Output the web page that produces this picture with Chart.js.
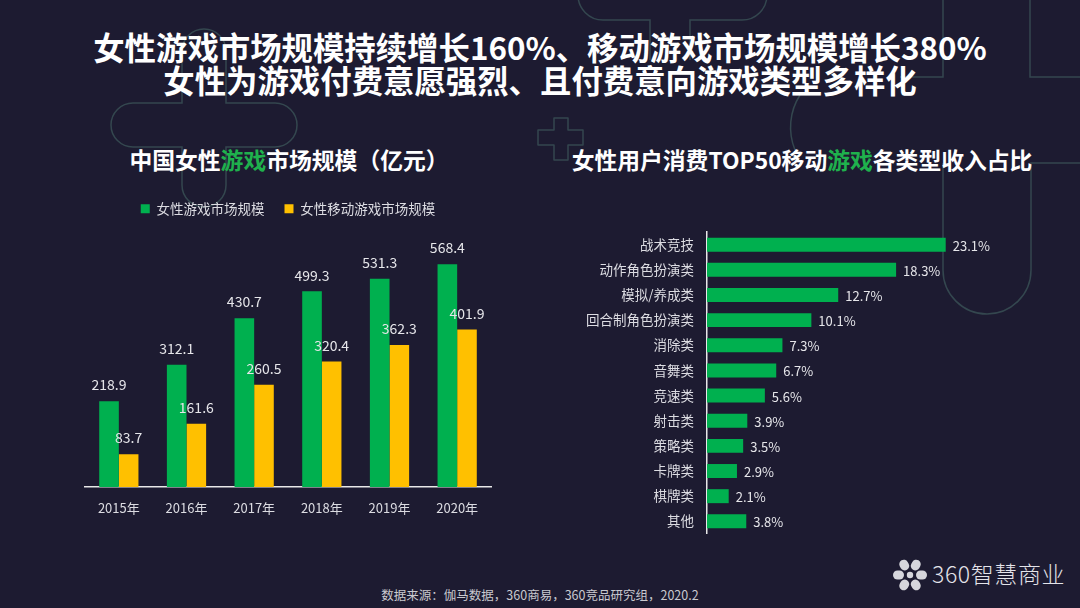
<!DOCTYPE html>
<html>
<head>
<meta charset="utf-8">
<script src="https://cdn.jsdelivr.net/npm/chart.js@4/dist/chart.umd.min.js"></script>
<style>
  html, body { margin: 0; padding: 0; }
  body { width: 1080px; height: 608px; background: #1d1b31; position: relative; overflow: hidden;
         font-family: "Noto Sans CJK SC", "Noto Sans", sans-serif; color: #fff; }
  .abs { position: absolute; }
  #deco { position: absolute; left: 0; top: 0; }
  .title { left: 0; width: 1080px; text-align: center; font-weight: 700; font-size: 31.4px; line-height: 34px; color: #fff; white-space: nowrap; }
  .sub { font-weight: 700; font-size: 22.8px; line-height: 26px; color: #fff; text-align: center; white-space: nowrap; }
  .g { color: #1fb14d; }
  #foot { left: 0; width: 1080px; top: 586px; text-align: center; font-size: 12.5px; line-height: 18px; color: #c9c9cf; }
  #logoText { left: 932px; top: 559px; font-size: 23px; line-height: 28px; color: #e4e4ea; font-weight: 300; letter-spacing: 0.6px; }
</style>
</head>
<body>
<svg id="deco" width="1080" height="608" viewBox="0 0 1080 608">
  <g fill="none" stroke="#34474f" stroke-width="1.5">
    <path d="M182,51 A22,22 0 0 1 226,51 L226,103 L275,103 A22,22 0 0 1 275,147 L226,147 L226,185 A22,22 0 0 1 182,185 L182,147 L133,147 A22,22 0 0 1 133,103 L182,103 Z"/>
    <path d="M578,-10 L578,-5 A25,25 0 0 0 603,20 L650,20 L650,60 M690,60 L690,20 L742,20 A25,25 0 0 0 767,-5 L767,-10"/>
    <path d="M554,118 L568,118 L568,130 L583,130 L583,145 L568,145 L568,160 L554,160 L554,145 L538,145 L538,130 L554,130 Z" stroke-linejoin="round"/>
    <path d="M900,77 L943,77 L943,0"/>
    <path d="M1030,0 L1030,77 L1080,77"/>
    <path d="M1080,163 L1031,163 L1031,270 A44,44 0 0 1 943,270 L943,163"/>
    <path d="M800,95 A60,60 0 0 0 795,150"/>
  </g>
</svg>

<div class="abs title" style="top:30px;">女性游戏市场规模持续增长160%、移动游戏市场规模增长380%</div>
<div class="abs title" style="top:63px;">女性为游戏付费意愿强烈、且付费意向游戏类型多样化</div>

<div class="abs sub" style="left:89px;width:400px;top:147px;">中国女性<span class="g">游戏</span>市场规模（亿元）</div>
<div class="abs sub" style="left:560px;width:484px;top:147px;">女性用户消费TOP50移动<span class="g">游戏</span>各类型收入占比</div>

<div class="abs" style="left:58px;top:182px;width:460px;height:348px;"><canvas id="c1" width="460" height="348"></canvas></div>
<div class="abs" style="left:560px;top:211px;width:460px;height:344px;"><canvas id="c2" width="460" height="344"></canvas></div>

<div id="foot" class="abs">数据来源：伽马数据，360商易，360竞品研究组，2020.2</div>

<svg class="abs" style="left:892px;top:557px;" width="36" height="36" viewBox="0 0 36 36">
  <g fill="#d6d6dc" transform="translate(18,18)">
    <rect x="-4.5" y="-17" width="9" height="11" rx="4.5" transform="rotate(-30)"/>
    <rect x="-4.5" y="-17" width="9" height="11" rx="4.5" transform="rotate(30)"/>
    <rect x="-4.5" y="-17" width="9" height="11" rx="4.5" transform="rotate(90)"/>
    <rect x="-4.5" y="-17" width="9" height="11" rx="4.5" transform="rotate(150)"/>
    <rect x="-4.5" y="-17" width="9" height="11" rx="4.5" transform="rotate(210)"/>
    <rect x="-4.5" y="-17" width="9" height="11" rx="4.5" transform="rotate(270)"/>
    <circle cx="0" cy="0" r="3.2"/>
  </g>
</svg>
<div id="logoText" class="abs">360智慧商业</div>

<script>
// ---------- data ----------
const years = ['2015年', '2016年', '2017年', '2018年', '2019年', '2020年'];
const femaleGameMarket = [218.9, 312.1, 430.7, 499.3, 531.3, 568.4];
const femaleMobileGameMarket = [83.7, 161.6, 260.5, 320.4, 362.3, 401.9];
const seriesNames = ['女性游戏市场规模', '女性移动游戏市场规模'];

const genres = ['战术竞技', '动作角色扮演类', '模拟/养成类', '回合制角色扮演类', '消除类', '音舞类', '竞速类', '射击类', '策略类', '卡牌类', '棋牌类', '其他'];
const genreShare = [23.1, 18.3, 12.7, 10.1, 7.3, 6.7, 5.6, 3.9, 3.5, 2.9, 2.1, 3.8];

// ---------- styles ----------
const GREEN = '#00b04f';
const GOLD = '#ffc000';
const FONT = '"Noto Sans CJK SC", "Noto Sans", sans-serif';
const LABEL = '#e6e6ea';

const valueLabels = {
  id: 'valueLabels',
  afterDatasetsDraw(chart, args, opts) {
    const ctx = chart.ctx;
    ctx.save();
    ctx.fillStyle = LABEL;
    ctx.font = (opts.size || 14) + 'px ' + FONT;
    chart.data.datasets.forEach((ds, di) => {
      const meta = chart.getDatasetMeta(di);
      meta.data.forEach((bar, i) => {
        const v = ds.data[i];
        const txt = opts.suffix ? v.toFixed(1) + opts.suffix : v.toFixed(1);
        if (opts.horizontal) {
          ctx.textAlign = 'left'; ctx.textBaseline = 'middle';
          ctx.fillText(txt, bar.x + 7, bar.y + 1);
        } else {
          ctx.textAlign = 'center'; ctx.textBaseline = 'middle';
          ctx.fillText(txt, bar.x, bar.y - 16);
        }
      });
    });
    ctx.restore();
  }
};

new Chart(document.getElementById('c1'), {
  type: 'bar',
  data: {
    labels: years,
    datasets: [
      { label: seriesNames[0], data: femaleGameMarket, backgroundColor: GREEN },
      { label: seriesNames[1], data: femaleMobileGameMarket, backgroundColor: GOLD }
    ]
  },
  options: {
    responsive: false,
    animation: false,
    events: [],
    layout: { padding: { left: 27, right: 27, top: 0, bottom: 0 } },
    categoryPercentage: 0.58,
    barPercentage: 1.0,
    plugins: {
      legend: {
        display: true,
        position: 'top',
        labels: {
          color: '#dcdce2',
          font: { family: FONT, size: 13.5 },
          boxWidth: 9, boxHeight: 9,
          padding: 20
        }
      },
      tooltip: { enabled: false },
      valueLabels: { size: 14 }
    },
    scales: {
      x: {
        grid: { display: false, drawTicks: false },
        border: { display: true, color: '#e8e8e8', width: 1.5 },
        ticks: { color: '#dcdce2', font: { family: FONT, size: 13 }, padding: 13 },
        afterFit(s) { s.height = 43; }
      },
      y: { display: false, min: 0, max: 667 }
    }
  },
  plugins: [valueLabels]
});

new Chart(document.getElementById('c2'), {
  type: 'bar',
  data: {
    labels: genres,
    datasets: [{ label: '收入占比', data: genreShare, backgroundColor: GREEN }]
  },
  options: {
    indexAxis: 'y',
    responsive: false,
    animation: false,
    events: [],
    layout: { padding: { left: 0, right: 3, top: 0, bottom: 0 } },
    categoryPercentage: 1.0,
    barPercentage: 0.556,
    plugins: {
      legend: { display: false },
      tooltip: { enabled: false },
      valueLabels: { size: 13, horizontal: true, suffix: '%' }
    },
    scales: {
      x: { display: false, min: 0, max: 30 },
      y: {
        grid: { display: false, drawTicks: false },
        border: { display: true, color: '#e8e8e8', width: 1.5 },
        ticks: { color: '#dcdce2', font: { family: FONT, size: 13.5 }, padding: 13 },
        afterFit(s) { s.width = 147; }
      }
    }
  },
  plugins: [valueLabels]
});
</script>
</body>
</html>
